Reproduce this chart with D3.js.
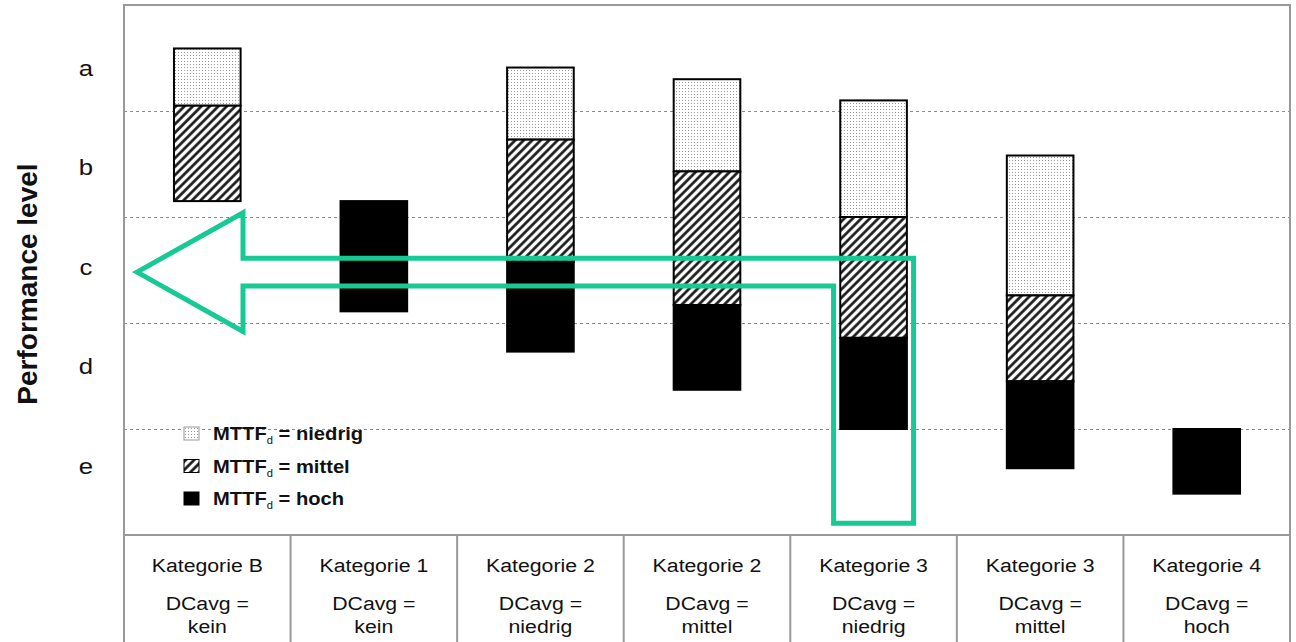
<!DOCTYPE html>
<html>
<head>
<meta charset="utf-8">
<script src="https://cdn.jsdelivr.net/npm/d3@7"></script>
<style>
	body { margin: 0; background: #fff; }
	text { font-family: "Liberation Sans", Arial, sans-serif; fill: #111; }
</style>
</head>
<body>
<svg id="chart"></svg>
<script>
// categories (table columns)
let categories = ["Kategorie B", "Kategorie 1", "Kategorie 2", "Kategorie 2", "Kategorie 3", "Kategorie 3", "Kategorie 4"];
let dcavg = ["kein", "kein", "niedrig", "mittel", "niedrig", "mittel", "hoch"];

// performance levels, e = 0..1, d = 1..2, ... a = 4..5
let levels = ["a", "b", "c", "d", "e"];

// stacked segments [from, to] in performance level units
let niedrig = [[4.05, 4.59], null, [3.73, 4.41], [3.43, 4.30], [3.00, 4.10], [2.26, 3.58], null];
let mittel = [[3.15, 4.05], null, [2.58, 3.73], [2.17, 3.43], [1.86, 3.00], [1.45, 2.26], null];
let hoch = [null, [2.11, 3.15], [1.73, 2.58], [1.37, 2.17], [1.00, 1.86], [0.63, 1.45], [0.39, 1.00]];

let legendLabels = ["niedrig", "mittel", "hoch"];

let w = 1296, h = 642;
let leftMargin = 124, rightMargin = 6, topMargin = 5, plotBottom = 535;
let sx = 1.12; // text in the original is a bit wide

let chart = d3.select('#chart')
	.attr('width', w)
	.attr('height', h);

let xScale = d3.scaleBand()
	.domain(d3.range(categories.length))
	.range([leftMargin, w - rightMargin]);

let yScale = d3.scaleLinear()
	.domain([0, 5])
	.range([plotBottom, topMargin]);

// label positions for a..e
let levelScale = d3.scalePoint()
	.domain(levels)
	.range([yScale(4.41), yScale(0.65)]);

let green = "#16c995";

// stretched text helper
function wideText(sel, x, y, size) {
	return sel.append("g")
		.attr("transform", `translate(${x},${y}) scale(${sx},1)`)
		.append("text")
		.style("font-size", size + "px");
}

// PATTERNS
let defs = chart.append("defs");

let dots = defs.append("pattern")
	.attr("id", "dots")
	.attr("patternUnits", "userSpaceOnUse")
	.attr("width", 3).attr("height", 3);
dots.append("rect").attr("width", 3).attr("height", 3).attr("fill", "#fff");
dots.append("rect").attr("x", 1).attr("y", 1).attr("width", 1).attr("height", 1).attr("fill", "#9a9a9a");

let hatch = defs.append("pattern")
	.attr("id", "hatch")
	.attr("patternUnits", "userSpaceOnUse")
	.attr("width", 6).attr("height", 6)
	.attr("patternTransform", "rotate(45)");
hatch.append("rect").attr("width", 6).attr("height", 6).attr("fill", "#fff");
hatch.append("line")
	.attr("x1", 1.5).attr("y1", 0).attr("x2", 1.5).attr("y2", 6)
	.attr("stroke", "#111").attr("stroke-width", 2.6);

let fills = ["url(#dots)", "url(#hatch)", "#000"];

// gridlines between levels
chart.append("g")
	.attr("class", "y-grid")
	.attr("transform", `translate(${leftMargin},0)`)
	.call(d3.axisLeft(yScale)
		.tickValues([1, 2, 3, 4])
		.tickSize(-(w - rightMargin - leftMargin))
		.tickFormat(""))
	.call(g => g.select(".domain").remove())
	.call(g => g.selectAll("line")
		.attr("stroke", "#8a8a8a")
		.style("stroke-dasharray", "3,3"));

// BARS
let series = [niedrig, mittel, hoch];
let barW = xScale.bandwidth() * 0.4;

series.forEach((s, si) => {
	chart.append("g")
		.selectAll("rect")
		.data(s.map((d, i) => ({ i: i, v: d })).filter(d => d.v))
		.enter()
		.append("rect")
		.attr("x", d => xScale(d.i) + (xScale.bandwidth() - barW) / 2)
		.attr("y", d => yScale(d.v[1]))
		.attr("width", barW)
		.attr("height", d => yScale(d.v[0]) - yScale(d.v[1]))
		.attr("fill", fills[si])
		.attr("stroke", "#000")
		.attr("stroke-width", 2);
});

// FRAME + TABLE
chart.append("rect")
	.attr("x", leftMargin).attr("y", topMargin)
	.attr("width", w - rightMargin - leftMargin)
	.attr("height", h + 10)
	.attr("fill", "none")
	.attr("stroke", "#999")
	.attr("stroke-width", 2);

chart.append("line")
	.attr("x1", leftMargin).attr("x2", w - rightMargin)
	.attr("y1", plotBottom).attr("y2", plotBottom)
	.attr("stroke", "#999").attr("stroke-width", 2);

let cells = chart.append("g").selectAll("g")
	.data(categories)
	.enter()
	.append("g")
	.attr("transform", (d, i) => `translate(${xScale(i)},0)`);

cells.filter((d, i) => i > 0)
	.append("line")
	.attr("y1", plotBottom).attr("y2", h)
	.attr("stroke", "#999").attr("stroke-width", 2);

cells.each(function (d, i) {
	let cell = d3.select(this);
	let cx = xScale.bandwidth() / 2;
	wideText(cell, cx, 572, 19).attr("text-anchor", "middle").text(d);
	wideText(cell, cx, 610, 19).attr("text-anchor", "middle").text("DCavg =");
	wideText(cell, cx, 633, 19).attr("text-anchor", "middle").text(dcavg[i]);
});

// LEVEL LABELS
levels.forEach(l => {
	wideText(chart, 86, levelScale(l) + 8, 23)
		.attr("text-anchor", "middle")
		.text(l);
});

chart.append("text")
	.attr("transform", "rotate(-90)")
	.attr("x", -284)
	.attr("y", 37)
	.attr("text-anchor", "middle")
	.style("font-size", "28px")
	.style("font-weight", "bold")
	.text("Performance level");

// LEGEND
let legend = chart.append("g")
	.selectAll("g")
	.data(legendLabels)
	.enter()
	.append("g")
	.attr("transform", (d, i) => `translate(184,${427 + i * 32.5})`);

legend.append("rect")
	.attr("width", 15).attr("height", 13)
	.attr("fill", (d, i) => fills[i])
	.attr("stroke", (d, i) => i == 0 ? "#999" : "#000")
	.attr("stroke-width", 1);

legend.each(function (d) {
	let lt = wideText(d3.select(this), 29, 13, 18).style("font-weight", "bold");
	lt.append("tspan").text("MTTF");
	lt.append("tspan").attr("dy", 4).style("font-size", "10px").style("font-weight", "normal").text("d");
	lt.append("tspan").attr("dy", -4).text(" = " + d);
});

// ARROW (annotation pointing at level c)
let bx0 = xScale(4) + xScale.bandwidth() / 2 - 40;
let bx1 = xScale(4) + xScale.bandwidth() / 2 + 40;
let headX = 243, tipX = 137;
let arrow = [
	[tipX, yScale(2.48)],
	[headX, yScale(3.04)],
	[headX, yScale(2.61)],
	[bx1, yScale(2.61)],
	[bx1, yScale(0.11)],
	[bx0, yScale(0.11)],
	[bx0, yScale(2.35)],
	[headX, yScale(2.35)],
	[headX, yScale(1.92)]
];

chart.append("path")
	.attr("d", d3.line()(arrow) + "Z")
	.attr("fill", "none")
	.attr("stroke", green)
	.attr("stroke-width", 5)
	.attr("stroke-linejoin", "miter");
</script>
</body>
</html>
